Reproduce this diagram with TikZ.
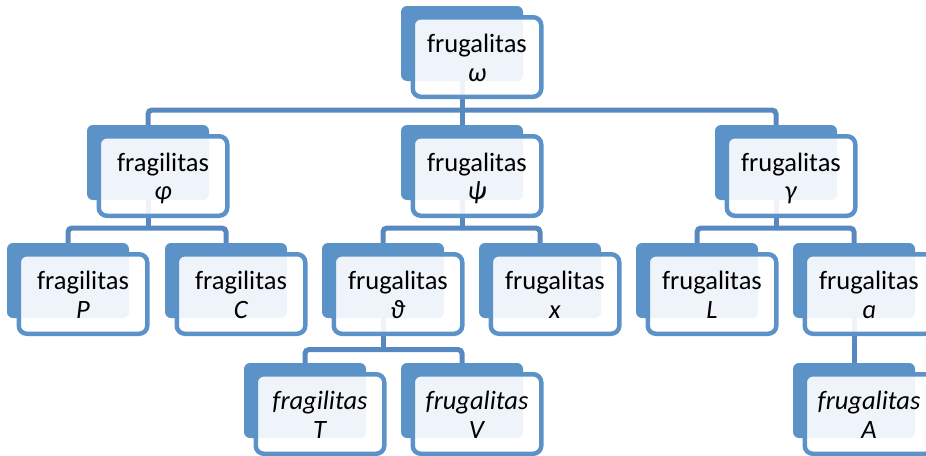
\documentclass[tikz,border=0pt]{standalone}
\usepackage{fontspec}
\setmainfont{Carlito}
\usetikzlibrary{backgrounds}
\definecolor{bx}{HTML}{5B93C9}
\definecolor{cn}{HTML}{5789C0}
\tikzset{
 backbox/.style={draw=none, fill=bx, rounded corners=6pt, minimum width=122pt, minimum height=75pt, inner sep=0pt, outer sep=0pt},
 frontbox/.style={draw=bx, line width=4.5pt, fill=white, fill opacity=0.9, text opacity=1, rounded corners=8pt, minimum width=128.5pt, minimum height=79.5pt, inner sep=0pt, align=center, font=\fontsize{26.5}{27}\selectfont},
 conn/.style={draw=cn, line width=5pt, rounded corners=4pt},
}
\newcommand\sst{\vrule height 23pt depth 3pt width 0pt}
\newcommand\tnode[5]{%
 \node[backbox] (#1b) at (#2, #3+37.5) {};
 \node[frontbox] (#1) at (#2+15, #3+51) {\sst #4\\\sst #5};
}
\begin{document}
\begin{tikzpicture}[x=1pt,y=-1pt]
\useasboundingbox (0,0) rectangle (926,455);
\tnode{root}{462}{6}{frugalitas}{\textit{ω}}
\tnode{phi}{148}{125}{fragilitas}{\textit{φ}}
\tnode{psi}{462}{125}{frugalitas}{\textit{ψ}}
\tnode{gam}{776}{125}{frugalitas}{\textit{γ}}
\tnode{P}{68}{243}{fragilitas}{\textit{P}}
\tnode{C}{226}{243}{fragilitas}{\textit{C}}
\tnode{th}{383}{243}{frugalitas}{\textit{ϑ}}
\tnode{x}{540}{243}{frugalitas}{\textit{x}}
\tnode{L}{697}{243}{frugalitas}{\textit{L}}
\tnode{a}{854}{243}{frugalitas}{\textit{ɑ}}
\tnode{T}{305}{363}{\textit{fragilitas}}{\textit{T}}
\tnode{V}{462}{363}{\textit{frugalitas}}{\textit{V}}
\tnode{A}{854}{363}{\textit{frugalitas}}{\textit{A}}
\coordinate (b1) at (462,110);
\coordinate (b2) at (148,228);
\coordinate (b3) at (462,228);
\coordinate (b4) at (776,228);
\coordinate (b5) at (383,349.5);
\begin{scope}[on background layer]
 \draw[conn] (phib.north) |- (b1) -| (gamb.north);
 \draw[conn] (rootb.south) -- (psib.north);
 \draw[conn] (Pb.north) |- (b2) -| (Cb.north);
 \draw[conn] (phib.south) -- (b2);
 \draw[conn] (thb.north) |- (b3) -| (xb.north);
 \draw[conn] (psib.south) -- (b3);
 \draw[conn] (Lb.north) |- (b4) -| (ab.north);
 \draw[conn] (gamb.south) -- (b4);
 \draw[conn] (Tb.north) |- (b5) -| (Vb.north);
 \draw[conn] (thb.south) -- (b5);
 \draw[conn] (ab.south) -- (Ab.north);
\end{scope}
\end{tikzpicture}
\end{document}
